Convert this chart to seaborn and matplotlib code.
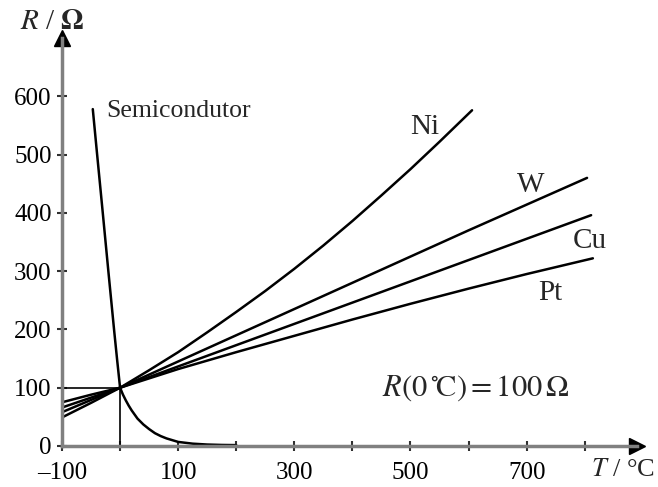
import numpy as np
import pandas as pd
import matplotlib
matplotlib.use("Agg")
import matplotlib.pyplot as plt
import seaborn as sns

# ---- data ----
T_semi = [-47, -40, -30, -20, -10, -5, 0, 5, 10, 15, 20, 30, 40, 50, 60, 70, 80, 90, 100, 125, 150, 175, 200]
R_semi = [578, 505, 402, 298, 196, 147, 100, 88, 78, 69, 61, 47, 37, 29, 22, 17, 13, 10, 7, 4, 2.5, 1.8, 1.5]

T_ni = [-100, -50, 0, 50, 100, 150, 200, 250, 300, 350, 400, 450, 500, 550, 606]
R_ni = [49, 74, 100, 130, 161, 195, 230, 266, 304, 344, 386, 430, 475, 522, 576]

T_w = [-100, 0, 200, 400, 600, 804]
R_w = [58, 100, 190, 280, 370, 460]

T_cu = [-100, 0, 200, 400, 600, 811]
R_cu = [66, 100, 173, 246, 319, 396]

T_pt = [-100, -50, 0, 100, 200, 300, 400, 500, 600, 700, 814]
R_pt = [75, 88, 100, 132, 161, 189, 217, 244, 270, 295, 322]

x_ticks = [-100, 0, 100, 200, 300, 400, 500, 600, 700, 800]
x_labels = ["\u2013100", "", "100", "", "300", "", "500", "", "700", ""]
y_ticks = [0, 100, 200, 300, 400, 500, 600]
y_labels = ["0", "100", "200", "300", "400", "500", "600"]

series = {"Semicondutor": (T_semi, R_semi), "Ni": (T_ni, R_ni), "W": (T_w, R_w),
          "Cu": (T_cu, R_cu), "Pt": (T_pt, R_pt)}
rows = []
for name, (ts, rs) in series.items():
    for i, (t, r) in enumerate(zip(ts, rs)):
        rows.append({"material": name, "T": t, "R": r, "order": i})
df = pd.DataFrame(rows)

sns.set_style("white")
plt.rcParams["font.family"] = ["Liberation Serif", "DejaVu Serif"]
plt.rcParams["mathtext.fontset"] = "stix"

W, H = 658, 487
fig = plt.figure(figsize=(W / 100, H / 100), dpi=100)
x0, x1 = -100, 890
y0, y1 = 0, 700
left_px, right_px = 62, 637
bottom_px, top_px = 446, 38
ax = fig.add_axes([left_px / W, (H - bottom_px) / H, (right_px - left_px) / W, (bottom_px - top_px) / H])

sns.lineplot(data=df, x="T", y="R", hue="material", units="material", estimator=None,
             sort=False, palette=["black"] * 5, linewidth=1.8, legend=False, ax=ax)

# reference lines at R(0 °C) = 100 Ω
ax.plot([-100, 0], [100, 100], color="black", lw=1.2)
ax.plot([0, 0], [0, 100], color="black", lw=1.2)

ax.set_xlim(x0, x1)
ax.set_ylim(y0, y1)
for s in ["top", "right"]:
    ax.spines[s].set_visible(False)
for s in ["left", "bottom"]:
    ax.spines[s].set_color("#808080")
    ax.spines[s].set_linewidth(2.5)

ax.set_xticks(x_ticks)
ax.set_xticklabels(x_labels)
ax.set_yticks(y_ticks)
ax.set_yticklabels(y_labels)
ax.tick_params(axis="both", bottom=True, left=True, direction="inout", length=7, width=1.5,
               color="#303030", labelsize=18, labelcolor="black")
ax.tick_params(axis="x", pad=8)
ax.tick_params(axis="y", pad=4)
ax.set_xlabel("")
ax.set_ylabel("")

# arrow heads
ax.plot(1, 0, ">", color="black", markersize=12, transform=ax.transAxes, clip_on=False)
ax.plot(0, 1, "^", color="black", markersize=12, transform=ax.transAxes, clip_on=False)

# labels
ax.text(-23, 575, "Semicondutor", fontsize=18.5, ha="left", va="center")
ax.text(525, 548, "Ni", fontsize=21, ha="center", va="center")
ax.text(707, 447, "W", fontsize=21, ha="center", va="center")
ax.text(808, 352, "Cu", fontsize=21, ha="center", va="center")
ax.text(740, 262, "Pt", fontsize=21, ha="center", va="center")
ax.text(612, 100, r"$R\left(0\,^{\circ}\!\mathrm{C}\right) = 100\,\Omega$", fontsize=22,
        ha="center", va="center")

fig.text(20 / W, 1 - 22 / H, r"$R$ / $\mathbf{\Omega}$", fontsize=21, ha="left", va="center")
fig.text(655 / W, 1 - 470 / H, r"$T$ / °C", fontsize=19, ha="right", va="center")

fig.savefig("out.png", dpi=100)
